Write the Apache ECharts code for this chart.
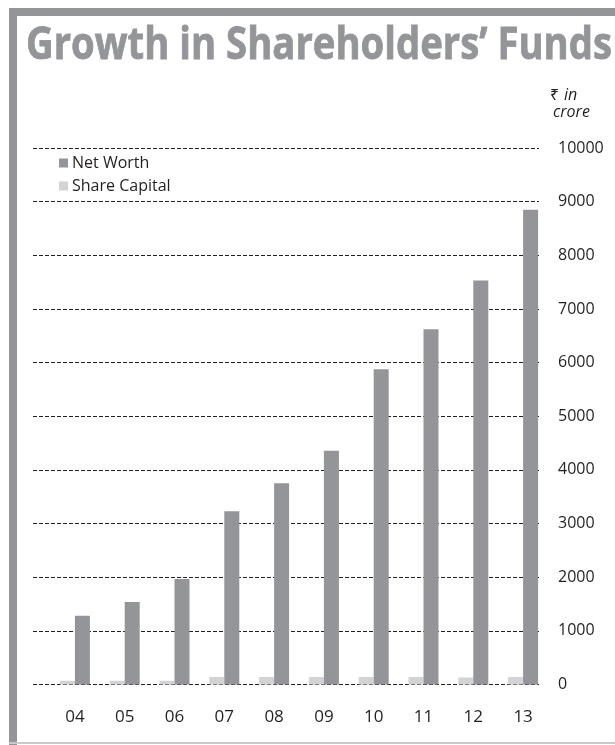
<!DOCTYPE html>
<html>
<head>
<meta charset="utf-8">
<script src="https://cdn.jsdelivr.net/npm/echarts@6/dist/echarts.min.js"></script>
<style>
html,body{margin:0;padding:0;background:#fff;}
#c{width:615px;height:745px;}
</style>
</head>
<body>
<div id="c"></div>
<script>
var years = ['04','05','06','07','08','09','10','11','12','13'];
var netWorth = [1280, 1540, 1965, 3230, 3750, 4355, 5875, 6620, 7530, 8850];
var shareCapital = [70, 70, 70, 140, 140, 140, 140, 140, 130, 140];
var yTicks = [0,1000,2000,3000,4000,5000,6000,7000,8000,9000,10000];
var titleText = 'Growth in Shareholders\u2019 Funds';

var FRAME = '#939598';
var DARK = '#939598';
var LIGHT = '#d1d3d4';
var TXT = '#231f20';
var FONT = '"Open Sans", "Noto Sans", sans-serif';
var TFONT = 'bold 44px "Open Sans"';

var ctx = document.createElement('canvas').getContext('2d');
ctx.font = TFONT;
var tw = ctx.measureText(titleText).width;
var sx = 586 / tw;

var chart = echarts.init(document.getElementById('c'), null, {renderer:'canvas'});
var gridTop = 148, gridBottom = 60.5;
chart.setOption({
  animation: false,
  backgroundColor: '#fff',
  graphic: [
    {type:'rect', shape:{x:9, y:8, width:606, height:8}, style:{fill:FRAME}, silent:true},
    {type:'rect', shape:{x:9, y:8, width:8, height:737}, style:{fill:FRAME}, silent:true},
    {type:'rect', shape:{x:9, y:742, width:606, height:2}, style:{fill:'#c8c9cb'}, silent:true},
    {type:'text', x:26, y:24.5, scaleX:sx, style:{text:titleText, font:TFONT, fill:FRAME, stroke:FRAME, lineWidth:0.8, textVerticalAlign:'top'}, silent:true},
    {type:'text', x:550, y:87, style:{text:'\u20B9 ', font:'16px "Noto Sans"', fill:TXT}, silent:true},
    {type:'text', x:564, y:87, style:{text:'in', font:'italic 16px ' + FONT, fill:TXT}, silent:true},
    {type:'text', x:553, y:104, style:{text:'crore', font:'italic 16px ' + FONT, fill:TXT}, silent:true}
  ],
  legend: {
    data: ['Net Worth','Share Capital'],
    orient: 'vertical',
    left: 54, top: 150,
    icon: 'rect', itemWidth: 9, itemHeight: 9, itemGap: 7,
    textStyle: {fontSize: 16, color: TXT, fontFamily: FONT, padding:[0,0,0,-1]},
    selectedMode: false
  },
  grid: [
    {left: 33, right: 76, top: gridTop, bottom: gridBottom},
    {left: 50, right: 67, top: gridTop, bottom: gridBottom}
  ],
  xAxis: [
    {type:'category', gridIndex:0, data: years, show:false},
    {type:'category', gridIndex:1, data: years,
     axisLine:{show:false}, axisTick:{show:false},
     axisLabel:{fontSize:17, color:TXT, fontFamily:FONT, margin:24}}
  ],
  yAxis: [
    {type:'value', gridIndex:0, min:0, max:10000, interval:1000,
     axisLine:{show:false}, axisTick:{show:false}, axisLabel:{show:false},
     splitLine:{show:true, lineStyle:{color:'#231f20', type:[4,2], width:1}}},
    {type:'value', gridIndex:1, position:'right', min:0, max:10000, interval:1000,
     axisLine:{show:false}, axisTick:{show:false}, splitLine:{show:false},
     axisLabel:{fontSize:16, color:TXT, fontFamily:FONT, margin:10, align:'left',
       formatter: function(v){ return yTicks.indexOf(v) >= 0 ? String(v) : ''; }}}
  ],
  series: [
    {name:'Share Capital', type:'bar', xAxisIndex:1, yAxisIndex:1, data: shareCapital,
     barWidth:15, barGap:'0%', itemStyle:{color:LIGHT}, z:3},
    {name:'Net Worth', type:'bar', xAxisIndex:1, yAxisIndex:1, data: netWorth,
     barWidth:15, barGap:'0%', itemStyle:{color:DARK}, z:3}
  ]
});
</script>
</body>
</html>
